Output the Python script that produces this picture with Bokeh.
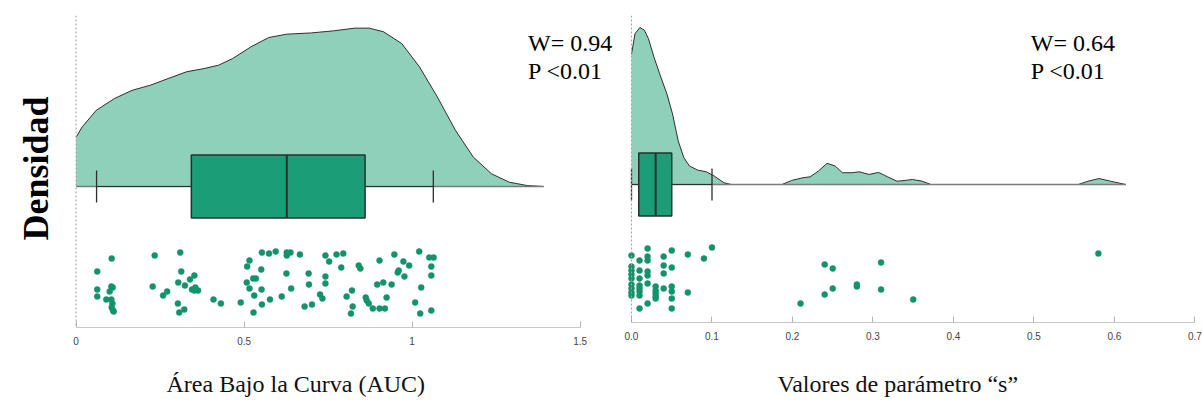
from bokeh.plotting import figure
from bokeh.models import Range1d, Label, FixedTicker, Span, Title
from bokeh.layouts import row, column
from bokeh.embed import file_html
from bokeh.resources import INLINE

# ---------------- Left panel: AUC ----------------
auc_points = [0.106, 0.063, 0.105, 0.109, 0.063, 0.100, 0.063, 0.090, 0.105, 0.108,
              0.106, 0.110, 0.112, 0.234, 0.310, 0.228, 0.313, 0.259, 0.271, 0.304,
              0.324, 0.339, 0.352, 0.345, 0.355, 0.363, 0.352, 0.303, 0.307, 0.322,
              0.409, 0.431, 0.490, 0.528, 0.509, 0.516, 0.553, 0.574, 0.594, 0.551,
              0.508, 0.527, 0.535, 0.516, 0.552, 0.530, 0.553, 0.577, 0.612, 0.626,
              0.627, 0.638, 0.627, 0.666, 0.640, 0.692, 0.693, 0.680, 0.702, 0.726,
              0.733, 0.742, 0.742, 0.742, 0.753, 0.775, 0.795, 0.789, 0.841, 0.846,
              0.821, 0.805, 0.823, 0.818, 0.862, 0.865, 0.871, 0.883, 0.903, 0.919,
              0.896, 0.914, 0.903, 0.924, 0.939, 0.947, 0.974, 0.991, 0.960, 0.957,
              0.977, 1.021, 1.051, 1.064, 1.057, 1.057, 1.027, 1.009, 1.024, 1.057]
auc_jitter = [-72, -85, -100, -101, -103, -105, -110, -113, -113, -117,
              -121, -124, -125, -69, -66, -100, -85, -109, -105, -96,
              -99, -93, -89, -103, -101, -104, -104, -117, -126, -123,
              -113, -117, -116, -126, -80, -74, -66, -67, -65, -83,
              -96, -92, -92, -102, -103, -109, -118, -113, -110, -87,
              -69, -66, -66, -68, -102, -87, -98, -120, -118, -108,
              -112, -69, -90, -97, -75, -68, -67, -81, -79, -82,
              -104, -110, -120, -127, -111, -114, -117, -122, -122, -122,
              -98, -96, -74, -111, -98, -68, -75, -79, -84, -86,
              -90, -65, -71, -71, -80, -89, -101, -116, -127, -124]
auc_density_x = [0.0, 0.018, 0.060, 0.114, 0.167, 0.221, 0.274, 0.328, 0.381, 0.424,
                 0.466, 0.520, 0.573, 0.627, 0.701, 0.766, 0.830, 0.872, 0.915, 0.969,
                 1.022, 1.075, 1.129, 1.182, 1.236, 1.289, 1.342, 1.391]
auc_density_h = [0.31, 0.374, 0.479, 0.553, 0.605, 0.637, 0.679, 0.721, 0.742, 0.763,
                 0.805, 0.878, 0.937, 0.958, 0.966, 0.979, 0.996, 0.996, 0.973, 0.899,
                 0.752, 0.563, 0.353, 0.185, 0.080, 0.027, 0.006, 0.0]
auc_box = {"lo": 0.061, "q1": 0.343, "med": 0.627, "q3": 0.860, "hi": 1.063}
auc_ticks = [0, 0.5, 1, 1.5]
auc_tick_labels = ["0", "0.5", "1", "1.5"]
auc_stats = ["W= 0.94", "P <0.01"]
auc_title = "Área Bajo la Curva (AUC)"

# ---------------- Right panel: parameter s ----------------
s_points = [0.00] * 9 + [0.01] * 8 + [0.02] * 7 + [0.03] * 5 + [0.04] * 4 + [0.05] * 6 + \
           [0.07, 0.07, 0.09, 0.10, 0.21, 0.24, 0.24, 0.25, 0.25, 0.28, 0.28, 0.31, 0.31, 0.35, 0.58]
s_jitter = [-71, -82, -86, -90, -94, -100, -104, -108, -111,
            -76, -86, -94, -101, -104, -107, -111, -124,
            -64, -72, -76, -87, -91, -99, -119,
            -102, -106, -109, -112, -114,
            -72, -81, -89, -104,
            -66, -83, -102, -107, -114, -124,
            -70, -108, -74, -63, -119, -80, -110, -84, -104, -100, -102, -78, -105, -115, -69]
s_density_x = [0.0, 0.0043, 0.0104, 0.016, 0.021, 0.028, 0.035, 0.044, 0.051, 0.058,
               0.065, 0.072, 0.082, 0.093, 0.103, 0.115, 0.124, 0.187, 0.199, 0.213,
               0.222, 0.232, 0.243, 0.253, 0.262, 0.274, 0.283, 0.295, 0.307, 0.318,
               0.330, 0.340, 0.349, 0.361, 0.372, 0.555, 0.567, 0.581, 0.595, 0.614]
s_density_h = [0.83, 0.96, 1.0, 0.983, 0.93, 0.81, 0.705, 0.577, 0.449, 0.278,
               0.171, 0.118, 0.092, 0.081, 0.053, 0.011, 0.0, 0.0, 0.026, 0.043,
               0.049, 0.085, 0.135, 0.118, 0.075, 0.075, 0.081, 0.064, 0.077, 0.049,
               0.021, 0.026, 0.032, 0.021, 0.0, 0.0, 0.021, 0.038, 0.021, 0.0]
s_box = {"lo": 0.0, "q1": 0.009, "med": 0.03, "q3": 0.05, "hi": 0.10}
s_ticks = [0.0, 0.1, 0.2, 0.3, 0.4, 0.5, 0.6, 0.7]
s_tick_labels = ["0.0", "0.1", "0.2", "0.3", "0.4", "0.5", "0.6", "0.7"]
s_stats = ["W= 0.64", "P <0.01"]
s_title = "Valores de parámetro \u201cs\u201d"

DENS_FILL = "#8fd0bb"
BOX_FILL = "#1b9e77"
PT_COLOR = "#14936a"
DARK = "#2e2e2e"
SERIF = "Liberation Serif"


def make_panel(width, xr, yr, mb_left, mb_right, mb_bottom,
               pts, jit, dx, dh, dens_scale, box, ticks, tick_labels, bounds,
               stats, stats_x, stats_y, title, title_offset, pad_standoff):
    p = figure(width=width, height=401, x_range=Range1d(*xr), y_range=Range1d(*yr),
               output_backend="svg", toolbar_location=None,
               min_border_left=mb_left, min_border_right=mb_right,
               min_border_top=15, min_border_bottom=mb_bottom)
    p.yaxis.visible = False
    p.xgrid.visible = False
    p.ygrid.visible = False
    p.outline_line_color = None
    p.background_fill_color = "white"
    p.border_fill_color = "white"

    ax = p.xaxis[0]
    ax.ticker = FixedTicker(ticks=ticks)
    ax.major_label_overrides = {t: l for t, l in zip(ticks, tick_labels)}
    ax.bounds = bounds
    ax.axis_line_color = "#c8c8c8"
    ax.axis_line_width = 1
    ax.major_tick_line_color = "#b5b5b5"
    ax.major_tick_in = 6
    ax.major_tick_out = 0
    ax.minor_tick_line_color = None
    ax.major_label_text_font = "Liberation Sans"
    ax.major_label_text_font_size = "10px"
    ax.major_label_text_color = "#444444"
    ax.major_label_standoff = 9
    # blank axis label used only as vertical padding above the axis title
    ax.axis_label = " "
    ax.axis_label_text_font_size = "12px"
    ax.axis_label_standoff = pad_standoff

    hy = [h * dens_scale for h in dh]
    p.varea(x=dx, y1=[0] * len(dx), y2=hy, fill_color=DENS_FILL, fill_alpha=1.0)
    p.line(dx, hy, line_color=DARK, line_width=1)
    p.line([0, dx[-1]], [0, 0], line_color="#7a7a7a", line_width=1.3)

    # whiskers
    p.segment(x0=[box["lo"]], y0=[0], x1=[box["hi"]], y1=[0], line_color=DARK, line_width=1.2)
    p.segment(x0=[box["lo"], box["hi"]], y0=[-16, -16], x1=[box["lo"], box["hi"]], y1=[16, 16],
              line_color=DARK, line_width=1.3)
    # box
    p.quad(left=[box["q1"]], right=[box["q3"]], bottom=[-31.5], top=[31.5],
           fill_color=BOX_FILL, line_color=DARK, line_width=1.5)
    p.segment(x0=[box["med"]], y0=[-31.5], x1=[box["med"]], y1=[31.5], line_color=DARK, line_width=2)

    # raw points
    p.scatter(pts, jit, size=6, fill_color=PT_COLOR, line_color=PT_COLOR, line_width=0.5)

    p.add_layout(Span(location=0, dimension="height", line_color="#a0a0a0",
                      line_dash="2 2", line_width=1))

    for i, s in enumerate(stats):
        p.add_layout(Label(x=stats_x, y=stats_y - 28 * i, text=s, text_font=SERIF,
                           text_font_size="24px", text_color="black",
                           text_align="left", text_baseline="middle"))
    p.add_layout(Title(text=title, align="left", offset=title_offset,
                       text_font=SERIF, text_font_size="24px", text_font_style="normal",
                       text_color="#111111", vertical_align="middle", standoff=6), "below")
    return p


# left frame: x from 64 to 614 px, y from 15 to 327 px (baseline at 186)
p1 = make_panel(614, (-0.0344, 1.6021), (-141, 171), 64, 0, 74,
                auc_points, auc_jitter, auc_density_x, auc_density_h, 159, auc_box,
                auc_ticks, auc_tick_labels, (0, 1.5),
                auc_stats, 1.345, 144, auc_title, 102, 2)
p1.add_layout(Title(text="Densidad", align="left", offset=87, text_font=SERIF,
                    text_font_size="36px", text_font_style="bold", text_color="black",
                    standoff=18), "left")

# right frame: x from 616 to 1203 px, y from 15 to 322 px (baseline at 184)
p2 = make_panel(589, (-0.01863, 0.7106), (-138, 169), 2, 0, 79,
                s_points, s_jitter, s_density_x, s_density_h, 157, s_box,
                s_ticks, s_tick_labels, (0, 0.7),
                s_stats, 0.496, 142, s_title, 161, 7)

layout = row(column(p1), column(p2))
open("out.html", "w").write(file_html(layout, INLINE))
